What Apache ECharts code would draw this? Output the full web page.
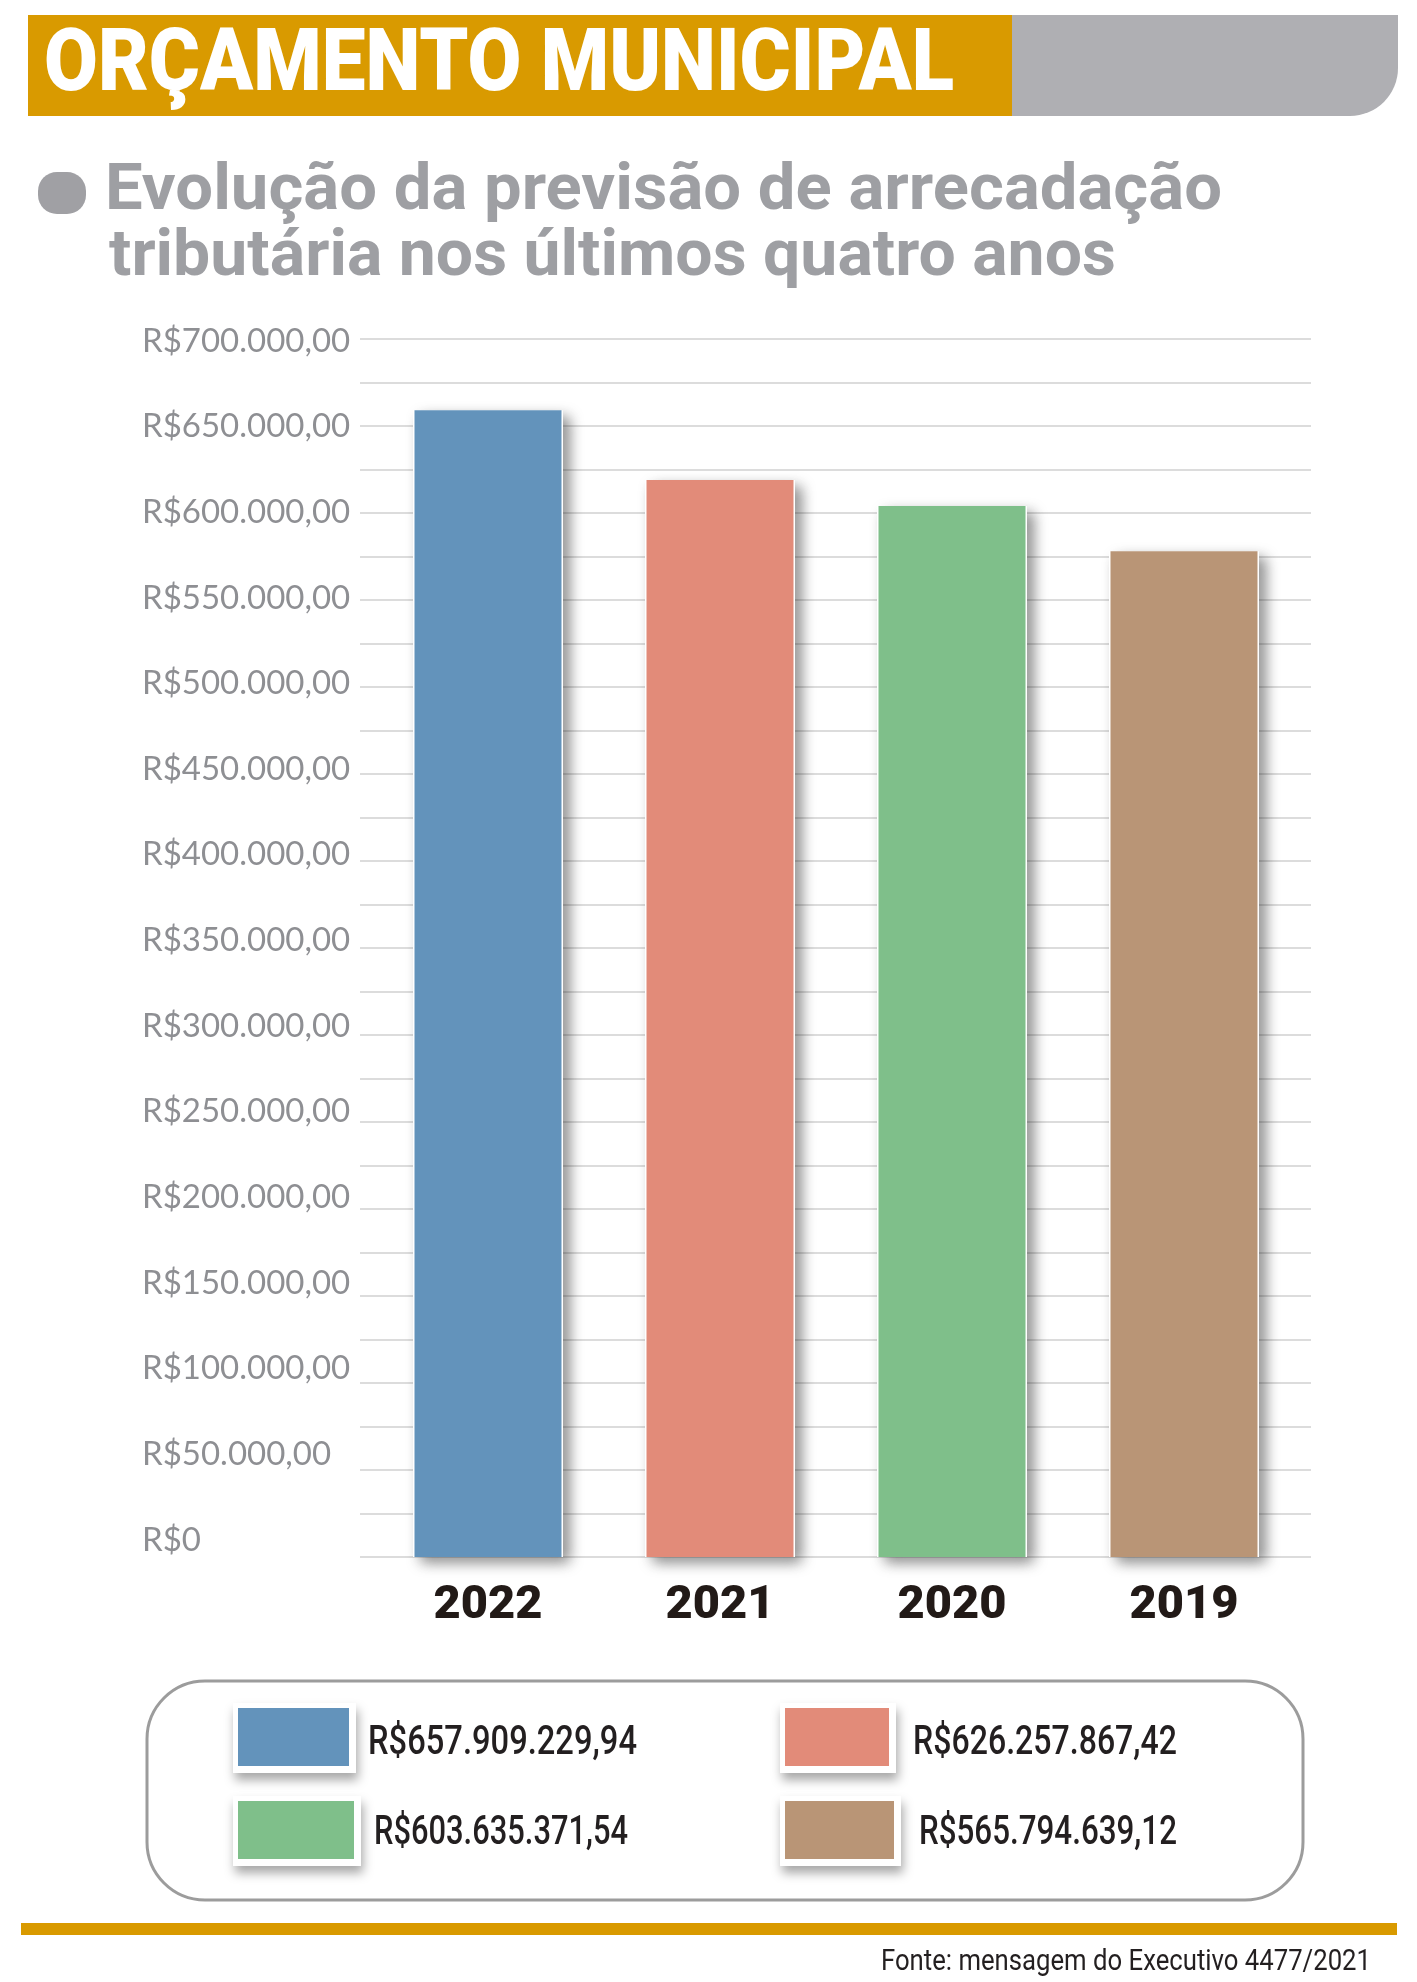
<!DOCTYPE html>
<html>
<head>
<meta charset="utf-8">
<script src="https://cdn.jsdelivr.net/npm/echarts@6/dist/echarts.min.js"></script>
<style>
html,body{margin:0;padding:0;background:#fff;}
#chart{width:1417px;height:1982px;}
</style>
</head>
<body>
<div id="chart"></div>
<script>
// ---- data ----
const categories = ['2022', '2021', '2020', '2019'];
// bar heights (axis units)
const barValues = [659000, 619000, 604000, 578000];
const barColors = ['#6393bb', '#e28b79', '#7fbf8a', '#b99576'];
const legendTexts = ['R$657.909.229,94', 'R$626.257.867,42', 'R$603.635.371,54', 'R$565.794.639,12'];
const tickValues = [0, 50000, 100000, 150000, 200000, 250000, 300000, 350000, 400000, 450000, 500000, 550000, 600000, 650000, 700000];
const tickLabels = ['R$0', 'R$50.000,00', 'R$100.000,00', 'R$150.000,00', 'R$200.000,00', 'R$250.000,00',
  'R$300.000,00', 'R$350.000,00', 'R$400.000,00', 'R$450.000,00', 'R$500.000,00', 'R$550.000,00',
  'R$600.000,00', 'R$650.000,00', 'R$700.000,00'];
const titleText = 'ORÇAMENTO MUNICIPAL';
const subtitleLines = ['Evolução da previsão de arrecadação', 'tributária nos últimos quatro anos'];
const sourceText = 'Fonte: mensagem do Executivo 4477/2021';

// ---- helpers ----
const mctx = document.createElement('canvas').getContext('2d');
function fit(text, font, target) { mctx.font = font; return target / mctx.measureText(text).width; }
function fittedText(text, font, x, y, target, fill) {
  return { type: 'text', x: x, y: y, scaleX: fit(text, font, target), z: 10,
    style: { text: text, font: font, fill: fill, x: 0, y: 0, align: 'left', verticalAlign: 'middle' } };
}

const chart = echarts.init(document.getElementById('chart'), null, { renderer: 'canvas' });

const headerFont = '900 88px Roboto';
const subFont = 'bold 64px Roboto';
const legFont = '500 41px Roboto';
const srcFont = '400 29px Roboto';

const legendLayout = [
  { sx: 238, sy: 1708, sw: 111, sh: 58, tx: 368, ty: 1744, tw: 269 },
  { sx: 785, sy: 1708, sw: 104, sh: 58, tx: 913, ty: 1744, tw: 264 },
  { sx: 238, sy: 1801, sw: 116, sh: 58, tx: 374, ty: 1834, tw: 254 },
  { sx: 785, sy: 1801, sw: 109, sh: 58, tx: 919, ty: 1834, tw: 258 }
];

const graphics = [
  { type: 'rect', shape: { x: 28, y: 15, width: 984, height: 101 }, style: { fill: '#d99a00' }, z: 1 },
  { type: 'rect', shape: { x: 1012, y: 15, width: 386, height: 101, r: [0, 0, 48, 0] }, style: { fill: '#afafb3' }, z: 1 },
  fittedText(titleText, headerFont, 44, 68, 910, '#ffffff'),
  { type: 'rect', shape: { x: 38, y: 172, width: 48, height: 42, r: 19 }, style: { fill: '#a0a0a4' }, z: 1 },
  fittedText(subtitleLines[0], subFont, 105, 193, 1117, '#9e9fa3'),
  fittedText(subtitleLines[1], subFont, 109, 259, 1007, '#9e9fa3'),
  { type: 'rect', shape: { x: 147, y: 1681, width: 1156, height: 219, r: 58 }, style: { fill: 'none', stroke: '#9c9c9c', lineWidth: 3 }, z: 1 },
  { type: 'rect', shape: { x: 21, y: 1923, width: 1376, height: 12 }, style: { fill: '#d99a00' }, z: 1 },
  fittedText(sourceText, srcFont, 881, 1963, 490, '#231f20')
];
legendLayout.forEach(function (L, i) {
  graphics.push({ type: 'rect', shape: { x: L.sx - 5, y: L.sy - 5, width: L.sw + 12, height: L.sh + 12 },
    style: { fill: '#ffffff', shadowColor: 'rgba(0,0,0,0.35)', shadowBlur: 10, shadowOffsetX: 2, shadowOffsetY: 7 }, z: 2 });
  graphics.push({ type: 'rect', shape: { x: L.sx, y: L.sy, width: L.sw, height: L.sh }, style: { fill: barColors[i] }, z: 3 });
  graphics.push(fittedText(legendTexts[i], legFont, L.tx, L.ty, L.tw, '#231f20'));
});

const option = {
  backgroundColor: '#ffffff',
  animation: false,
  grid: [
    { left: 372, right: 117, top: 339, bottom: 425, containLabel: false },  // bars
    { left: 360, right: 106, top: 339, bottom: 425, containLabel: false }   // wider gridlines
  ],
  xAxis: [{
    type: 'category',
    gridIndex: 0,
    data: categories,
    axisLine: { show: false },
    axisTick: { show: false },
    axisLabel: { margin: 26, color: '#221a17', fontFamily: 'Roboto', fontWeight: 900, fontSize: 47 }
  }, {
    type: 'category',
    gridIndex: 0,
    data: categories,
    show: false
  }, {
    type: 'value',
    gridIndex: 1,
    show: false,
    min: 0, max: 1
  }],
  yAxis: [{
    type: 'value',
    gridIndex: 0,
    min: 0, max: 700000, interval: 25000,
    axisLine: { show: false },
    axisTick: { show: false },
    splitLine: { show: false },
    axisLabel: { show: false }
  }, {
    // label-only axis: the printed labels sit slightly off the gridlines in the original
    type: 'value',
    gridIndex: 0,
    position: 'left',
    min: -9925, max: 701167,
    axisLine: { show: false },
    axisTick: { show: false },
    splitLine: { show: false },
    axisLabel: {
      customValues: tickValues,
      align: 'left', margin: 230, color: '#8e8f93', fontFamily: 'Lato', fontSize: 33,
      formatter: function (v) { const i = tickValues.indexOf(v); return i >= 0 ? tickLabels[i] : ''; }
    }
  }, {
    type: 'value',
    gridIndex: 1,
    min: 0, max: 700000, interval: 25000,
    axisLine: { show: false },
    axisTick: { show: false },
    axisLabel: { show: false },
    splitLine: { show: true, lineStyle: { color: '#dcdcdc', width: 2 } }
  }],
  series: [{
    type: 'bar',
    xAxisIndex: 1,
    yAxisIndex: 0,
    barWidth: 150,
    silent: true,
    data: barValues,
    itemStyle: {
      color: '#ffffff', borderColor: '#ffffff', borderWidth: 10,
      shadowColor: 'rgba(0,0,0,0.35)', shadowBlur: 14, shadowOffsetX: 7, shadowOffsetY: 6
    }
  }, {
    type: 'bar',
    xAxisIndex: 0,
    yAxisIndex: 0,
    barWidth: 147,
    data: barValues.map(function (v, i) {
      return { value: v, itemStyle: { color: barColors[i] } };
    })
  }],
  graphic: { elements: graphics }
};
chart.setOption(option);
</script>
</body>
</html>
